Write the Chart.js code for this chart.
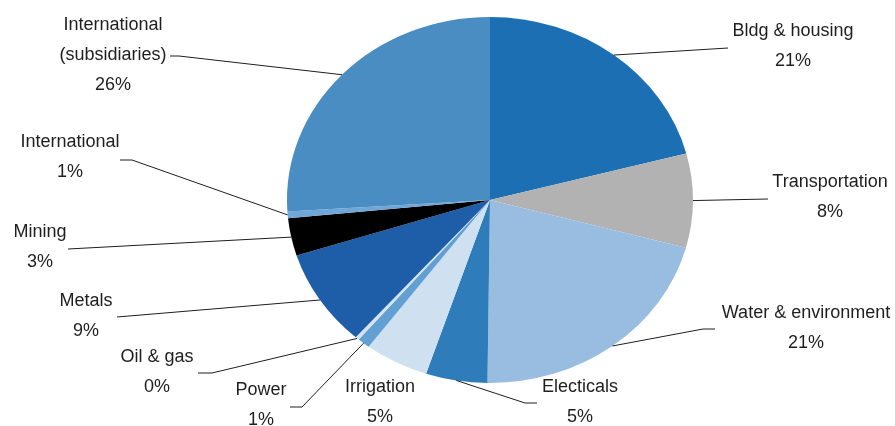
<!DOCTYPE html>
<html>
<head>
<meta charset="utf-8">
<script src="https://cdn.jsdelivr.net/npm/chart.js@4"></script>
<style>
  html, body { margin: 0; padding: 0; background: #fff; }
  #wrap { width: 895px; height: 426px; }
</style>
</head>
<body>
<div id="wrap"><canvas id="pieChart" width="895" height="426"></canvas></div>
<script>
const categories = [
  "Bldg & housing", "Transportation", "Water & environment", "Electicals",
  "Irrigation", "Power", "Oil & gas", "Metals", "Mining",
  "International", "International (subsidiaries)"
];
const shares = [20.9, 8.3, 21.0, 4.9, 5.1, 1.0, 0.3, 8.6, 3.3, 0.6, 26.0];
const labelLines = [
  ["Bldg & housing"], ["Transportation"], ["Water & environment"], ["Electicals"],
  ["Irrigation"], ["Power"], ["Oil & gas"], ["Metals"], ["Mining"],
  ["International"], ["International", "(subsidiaries)"]
];
const sliceColors = [
  "#1b6fb2", "#b2b2b2", "#98bde0", "#2e7dba", "#cfe1f1", "#62a0d3",
  "#d5e3f0", "#1e5ea8", "#000000", "#6ea7d8", "#4a8dc3"
];

// pie is stretched sideways into an ellipse
const X_STRETCH = 203 / 183;

// where each label sits (centre x, first baseline) and the bends of its leader line
const labelLayout = [
  { x: 793, y: 36, leader: [[728, 48]] },
  { x: 830, y: 187, leader: [[768, 199]] },
  { x: 806, y: 318, leader: [[703, 329], [715, 329]] },
  { x: 580, y: 392, leader: [[525, 403], [537, 403]] },
  { x: 380, y: 392, leader: null },
  { x: 261, y: 395, leader: [[302, 407], [290, 407]] },
  { x: 157, y: 362, leader: [[212, 373], [198, 373]] },
  { x: 86, y: 306, leader: [[117, 317]] },
  { x: 40, y: 237, leader: [[68, 249]] },
  { x: 70, y: 147, leader: [[132, 160], [120, 160]] },
  { x: 113, y: 29.5, leader: [[179, 56], [170, 56]] }
];
const LINE_STEP = 30;

const stretchPlugin = {
  id: "stretch",
  beforeDatasetsDraw(chart) {
    const arc = chart.getDatasetMeta(0).data[0];
    const ctx = chart.ctx;
    ctx.save();
    ctx.translate(arc.x, arc.y);
    ctx.scale(X_STRETCH, 1);
    ctx.translate(-arc.x, -arc.y);
  },
  afterDatasetsDraw(chart) {
    chart.ctx.restore();
  }
};

const labelPlugin = {
  id: "sliceLabels",
  afterDraw(chart) {
    const ctx = chart.ctx;
    const meta = chart.getDatasetMeta(0);
    const total = shares.reduce((a, b) => a + b, 0);
    ctx.save();
    ctx.font = '18px "Liberation Sans", Arial, sans-serif';
    ctx.fillStyle = "#1e1e1e";
    ctx.textAlign = "center";
    ctx.textBaseline = "alphabetic";
    ctx.strokeStyle = "#1e1e1e";
    ctx.lineWidth = 1;

    meta.data.forEach((arc, i) => {
      const lay = labelLayout[i];
      const lines = labelLines[i].concat([Math.round(shares[i] / total * 100) + "%"]);
      lines.forEach((t, k) => ctx.fillText(t, lay.x, lay.y + k * LINE_STEP));

      if (!lay.leader) return;
      const mid = (arc.startAngle + arc.endAngle) / 2;
      const sx = arc.x + Math.cos(mid) * arc.outerRadius * X_STRETCH;
      const sy = arc.y + Math.sin(mid) * arc.outerRadius;
      ctx.beginPath();
      ctx.moveTo(sx, sy);
      lay.leader.forEach(p => ctx.lineTo(p[0], p[1]));
      ctx.stroke();
    });
    ctx.restore();
  }
};

new Chart(document.getElementById("pieChart"), {
  type: "pie",
  data: {
    labels: categories,
    datasets: [{
      data: shares,
      backgroundColor: sliceColors,
      borderWidth: 0,
      clip: false
    }]
  },
  options: {
    responsive: false,
    devicePixelRatio: 1,
    animation: false,
    layout: { padding: { left: 290, right: 205, top: 17, bottom: 43 } },
    plugins: {
      legend: { display: false },
      tooltip: { enabled: false }
    }
  },
  plugins: [stretchPlugin, labelPlugin]
});
</script>
</body>
</html>
